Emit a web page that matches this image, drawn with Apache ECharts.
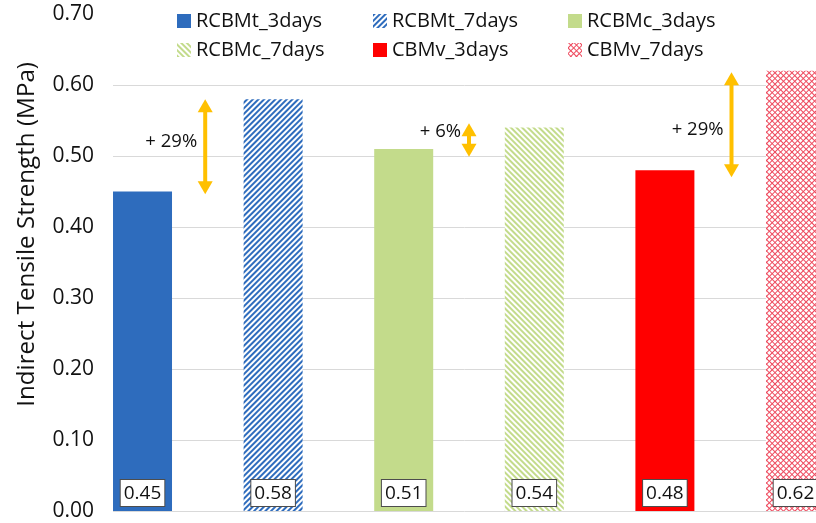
<!DOCTYPE html>
<html>
<head>
<meta charset="utf-8">
<script src="https://cdn.jsdelivr.net/npm/echarts@6/dist/echarts.min.js"></script>
<style>
  html, body { margin: 0; padding: 0; background: #fff; }
  #chart { width: 816px; height: 523px; }
</style>
</head>
<body>
<div id="chart"></div>
<script>
// Mix names and measured indirect tensile strength (MPa)
const seriesNames = ['RCBMt_3days', 'RCBMt_7days', 'RCBMc_3days', 'RCBMc_7days', 'CBMv_3days', 'CBMv_7days'];
const strengths = [0.45, 0.58, 0.51, 0.54, 0.48, 0.62];
const barPositions = [0, 1, 2, 3, 4, 5];

// Y axis ticks
const yMin = 0.0;
const yMax = 0.7;
const yStep = 0.1;
const yTitle = 'Indirect Tensile Strength (MPa)';

// Strength-gain annotations (3 days -> 7 days)
const gainLabels = ['+ 29%', '+ 6%', '+ 29%'];
const arrowPos = [0.48, 2.5, 4.51];
const arrowLow = [0.446, 0.499, 0.470];
const arrowHigh = [0.580, 0.546, 0.618];
const gainLabelY = [0.52, 0.534, 0.537];

const FONT = 'Open Sans';
const INK = '#111';
const BLUE = '#2E6CBD';
const GREEN = '#C3DB8B';
const RED = '#FF0000';
const MESH = '#EE4A5E';
const GOLD = '#FFC000';

const styles = [
  { color: BLUE },
  { color: '#fff', decal: { symbol: 'rect', symbolSize: 1, dashArrayX: [1, 0], dashArrayY: [2, 1.6], rotation: -Math.PI / 4, color: BLUE } },
  { color: GREEN },
  { color: '#fff', decal: { symbol: 'rect', symbolSize: 1, dashArrayX: [1, 0], dashArrayY: [1.5, 2], rotation: Math.PI / 4, color: GREEN } },
  { color: RED },
  { color: '#fff', decal: { symbol: 'rect', symbolSize: 1, dashArrayX: [2.8, 1], dashArrayY: [2.8, 1], rotation: Math.PI / 4, color: '#fff', backgroundColor: MESH } }
];

const barSeries = seriesNames.map((name, i) => ({
  name: name,
  type: 'bar',
  barWidth: 59,
  barGap: '-100%',
  data: [[barPositions[i], strengths[i]]],
  itemStyle: styles[i],
  label: {
    show: true,
    position: 'insideBottom',
    distance: 5,
    formatter: p => p.value[1].toFixed(2),
    backgroundColor: '#fff',
    borderColor: '#4d4d4d',
    borderWidth: 1,
    padding: [2, 3, 0, 3],
    color: INK,
    fontFamily: FONT,
    fontSize: 19,
    lineHeight: 24
  }
}));

// Double-headed arrows with the percentage gain beside them
const gainSeries = {
  type: 'custom',
  silent: true,
  z: 5,
  data: arrowPos.map((x, i) => [x, arrowLow[i], arrowHigh[i], gainLabelY[i], i]),
  renderItem: function (params, api) {
    const x = api.value(0);
    const lo = api.coord([x, api.value(1)]);
    const hi = api.coord([x, api.value(2)]);
    const t = api.coord([x, api.value(3)]);
    const hw = 7.5, hh = 13;
    return {
      type: 'group',
      children: [
        { type: 'line', shape: { x1: lo[0], y1: lo[1] - hh + 1, x2: hi[0], y2: hi[1] + hh - 1 }, style: { stroke: GOLD, lineWidth: 4 } },
        { type: 'polygon', shape: { points: [[hi[0], hi[1]], [hi[0] - hw, hi[1] + hh], [hi[0] + hw, hi[1] + hh]] }, style: { fill: GOLD } },
        { type: 'polygon', shape: { points: [[lo[0], lo[1]], [lo[0] - hw, lo[1] - hh], [lo[0] + hw, lo[1] - hh]] }, style: { fill: GOLD } },
        { type: 'text', x: t[0] - 8, y: t[1], style: { text: gainLabels[api.value(4)], align: 'right', verticalAlign: 'middle', fill: INK, fontFamily: FONT, fontSize: 18.5 } }
      ]
    };
  }
};

const legendBase = {
  orient: 'vertical',
  top: 11,
  padding: 0,
  itemWidth: 14,
  itemHeight: 14,
  itemGap: 9,
  icon: 'rect',
  selectedMode: false,
  textStyle: { fontFamily: FONT, fontSize: 20, color: INK }
};

const chart = echarts.init(document.getElementById('chart'));
chart.setOption({
  animation: false,
  backgroundColor: '#fff',
  legend: [
    Object.assign({ left: 177, data: [seriesNames[0], seriesNames[3]] }, legendBase),
    Object.assign({ left: 373, data: [seriesNames[1], seriesNames[4]] }, legendBase),
    Object.assign({ left: 568, data: [seriesNames[2], seriesNames[5]] }, legendBase)
  ],
  graphic: [{
    type: 'text',
    left: 15,
    top: 62,
    rotation: Math.PI / 2,
    style: { text: yTitle, fill: INK, fontFamily: FONT, fontSize: 24.2 }
  }],
  grid: { left: 113, right: 0, top: 14, bottom: 12, containLabel: false },
  xAxis: {
    type: 'value',
    min: -0.226,
    max: 5.157,
    show: false
  },
  yAxis: {
    type: 'value',
    min: yMin,
    max: yMax,
    interval: yStep,
    axisLine: { show: false },
    axisTick: { show: false },
    axisLabel: { formatter: v => v.toFixed(2), fontFamily: FONT, fontSize: 21, color: INK, margin: 19 },
    splitLine: { show: true, showMaxLine: false, lineStyle: { color: '#D9D9D9', width: 1 } }
  },
  series: barSeries.concat([gainSeries])
});
</script>
</body>
</html>
